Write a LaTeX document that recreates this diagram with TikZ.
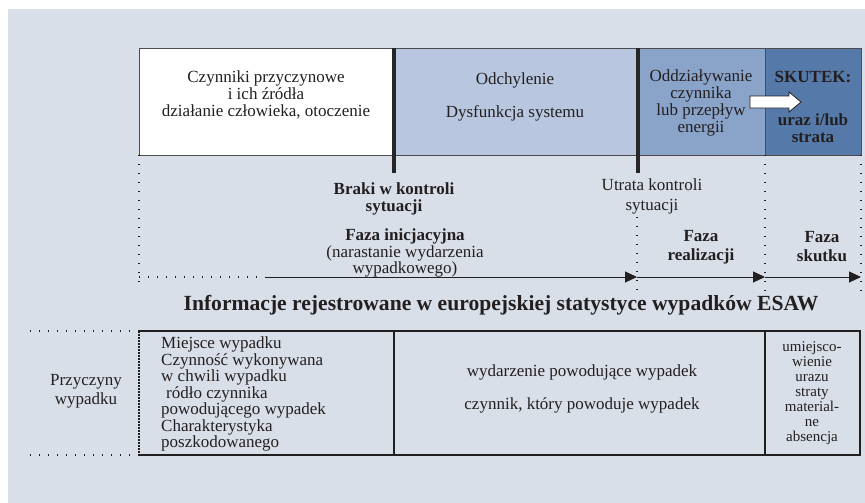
\documentclass[tikz,border=0pt]{standalone}
\usepackage{fontspec}
\setmainfont{Liberation Serif}
\usetikzlibrary{arrows.meta}

\definecolor{bgGrey}{HTML}{D9DFE8}
\definecolor{devBlue}{HTML}{B8C6DF}
\definecolor{actBlue}{HTML}{8AA3C9}
\definecolor{effBlue}{HTML}{5579A8}
\definecolor{inkGrey}{HTML}{231F20}

\def \rowTop {48}
\def \rowBot {155}
\def \arrowY {277}
\def \tabTop {331}
\def \tabBot {455}
\def \txtSize {\fontsize{17}{16.8}\selectfont}

\tikzset{
  phasebox/.style={draw=inkGrey!80, line width=0.6pt, inner sep=0pt,
    minimum height=107pt, anchor=north west},
  phasetext/.style={align=center, text=inkGrey, font=\txtSize, inner sep=0pt},
  dotline/.style={inkGrey, line width=1.1pt, dash pattern=on 1.3pt off 7.7pt},
  marker/.style={black!85, line width=4pt},
  timeline/.style={inkGrey, line width=1pt, -{Triangle[length=12pt,width=11pt]}},
  cellline/.style={inkGrey, line width=1.1pt}
}

\begin{document}
\begin{tikzpicture}[x=1pt,y=-1pt]
  \useasboundingbox (0,0) rectangle (865,503);
  \fill[bgGrey] (8,9) rectangle (865,503);

  % upper row of phases
  \node[phasebox, fill=white, minimum width=255pt] (causes) at (139,\rowTop) {};
  \node[phasebox, fill=devBlue, minimum width=244pt] (deviation) at (394,\rowTop) {};
  \node[phasebox, fill=actBlue, minimum width=127pt] (contact) at (638,\rowTop) {};
  \node[phasebox, fill=effBlue, minimum width=96pt] (effect) at (765,\rowTop) {};

  \node[phasetext] (causesTxt) at (266,95)
    {Czynniki przyczynowe\\ i ich źródła\\ działanie człowieka, otoczenie};
  \node[phasetext] (deviationTxt) at (515,97)
    {Odchylenie\\[16pt] Dysfunkcja systemu};
  \node[phasetext] (contactTxt) at (701,103)
    {Oddziaływanie\\ czynnika\\ lub przepływ\\ energii};
  \node[phasetext, font=\txtSize\bfseries] (effectTop) at (813,77) {SKUTEK:};
  \node[phasetext, font=\txtSize\bfseries] (effectBot) at (813,128) {uraz i/lub\\ strata};
  \filldraw[fill=white, draw=inkGrey, line width=0.8pt]
    (750,96) -- (789,96) -- (789,92) -- (801,102) -- (789,112) -- (789,108) -- (750,108) -- cycle;

  % control markers
  \coordinate (brakiTop) at (394,\rowTop);
  \coordinate (brakiBot) at (394,173);
  \coordinate (utrataTop) at (638,\rowTop);
  \coordinate (utrataBot) at (638,173);
  \draw[marker] (brakiTop) -- (brakiBot);
  \draw[marker] (utrataTop) -- (utrataBot);

  \node[phasetext, font=\txtSize\bfseries] (braki) at (394,199) {Braki w kontroli\\ sytuacji};
  \node[phasetext, font=\fontsize{17}{20}\selectfont] (utrata) at (652,196) {Utrata kontroli\\ sytuacji};

  % time line
  \coordinate (lineStart) at (139,\arrowY);
  \coordinate (lineSolid) at (265,\arrowY);
  \coordinate (endInit) at (637,\arrowY);
  \coordinate (endReal) at (765,\arrowY);
  \coordinate (endSkut) at (861,\arrowY);
  \draw[dotline] (lineStart) -- (lineSolid);
  \draw[timeline] (lineSolid) -- (endInit);
  \draw[timeline] (endInit) -- (endReal);
  \draw[timeline] (endReal) -- (endSkut);

  \draw[dotline] (139,\rowBot) -- (139,289);
  \draw[dotline] (637,217) -- (637,291);
  \draw[dotline] (765,\rowBot) -- (765,291);
  \draw[dotline] (861,\rowBot) -- (861,291);

  \node[phasetext, font=\fontsize{17}{14.5}\selectfont] (fazaInit) at (405,253)
    {\textbf{Faza inicjacyjna}\\ (narastanie wydarzenia\\ wypadkowego)};
  \node[phasetext, font=\fontsize{17}{19}\selectfont\bfseries] (fazaReal) at (701,247) {Faza\\ realizacji};
  \node[phasetext, font=\fontsize{17}{19}\selectfont\bfseries] (fazaSkut) at (822,247) {Faza\\ skutku};

  % ESAW table
  \node[text=inkGrey, font=\fontsize{21.6}{24}\selectfont\bfseries] (esaw) at (501,305)
    {Informacje rejestrowane w europejskiej statystyce wypadków ESAW};

  \draw[dotline] (30,\tabTop) -- (139,\tabTop);
  \draw[dotline] (30,\tabBot) -- (139,\tabBot);
  \draw[inkGrey, line width=1.1pt, dash pattern=on 2pt off 1pt] (139,\tabTop) -- (139,\tabBot);
  \draw[cellline] (139,\tabTop) -- (860,\tabTop) -- (860,\tabBot) -- (139,\tabBot);
  \draw[cellline] (394,\tabTop) -- (394,\tabBot);
  \draw[cellline] (765,\tabTop) -- (765,\tabBot);

  \node[phasetext, font=\fontsize{17}{19}\selectfont] (przyczyny) at (86,391) {Przyczyny\\ wypadku};
  \node[phasetext, align=left, anchor=west, font=\fontsize{17}{16.5}\selectfont] (causeInfo) at (161,394)
    {Miejsce wypadku\\ Czynność wykonywana\\ w chwili wypadku\\ \hspace*{5pt}ródło czynnika\\
     powodującego wypadek\\ Charakterystyka\\ poszkodowanego};
  \node[phasetext] (eventInfo) at (582,389)
    {wydarzenie powodujące wypadek\\[16pt] czynnik, który powoduje wypadek};
  \node[phasetext, font=\fontsize{15}{15}\selectfont] (effectInfo) at (812,393)
    {umiejsco-\\ wienie\\ urazu\\ straty\\ material-\\ ne\\ absencja};
\end{tikzpicture}
\end{document}
